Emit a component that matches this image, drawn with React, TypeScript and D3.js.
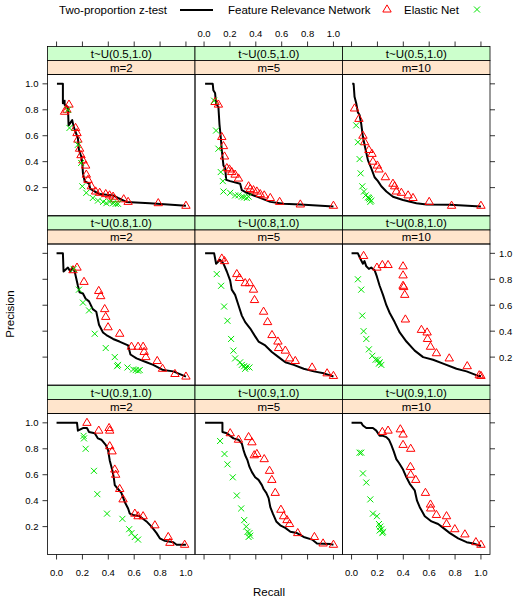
import React from "react";
import * as d3 from "d3";

const tLevels = ["t~U(0.5,1.0)", "t~U(0.8,1.0)", "t~U(0.9,1.0)"];
const mLevels = ["m=2", "m=5", "m=10"];
const recallTicks = [0, 0.2, 0.4, 0.6, 0.8, 1.0];
const precisionTicks = [0.2, 0.4, 0.6, 0.8, 1.0];
const seriesNames = ["Two-proportion z-test", "Feature Relevance Network", "Elastic Net"];

// [recall, precision] pairs
// Two-proportion z-test (black line)
const zT05m2 = [[0.003,1.0],[0.049,1.0],[0.049,0.85],[0.062,0.87],[0.062,0.84],[0.088,0.82],[0.093,0.68],[0.121,0.72],[0.132,0.67],[0.147,0.63],[0.165,0.58],[0.173,0.49],[0.191,0.44],[0.199,0.39],[0.204,0.31],[0.217,0.25],[0.251,0.23],[0.261,0.19],[0.295,0.17],[0.333,0.15],[0.437,0.14],[0.475,0.12],[0.54,0.09],[0.72,0.08],[1.0,0.06]];
const zT05m5 = [[0.008,1.0],[0.067,1.0],[0.072,0.95],[0.085,0.93],[0.093,0.85],[0.111,0.82],[0.119,0.69],[0.129,0.59],[0.137,0.49],[0.15,0.37],[0.163,0.35],[0.171,0.26],[0.202,0.25],[0.279,0.23],[0.292,0.18],[0.331,0.16],[0.408,0.13],[0.512,0.09],[0.615,0.075],[0.744,0.07],[1.0,0.055]];
const zT05m10 = [[0.005,1.0],[0.016,1.0],[0.023,0.9],[0.036,0.85],[0.049,0.78],[0.062,0.76],[0.075,0.69],[0.088,0.59],[0.109,0.49],[0.127,0.41],[0.152,0.35],[0.178,0.28],[0.204,0.25],[0.23,0.21],[0.269,0.17],[0.32,0.13],[0.398,0.105],[0.501,0.08],[0.579,0.07],[0.76,0.067],[1.0,0.055]];
const zT08m2 = [[0,1.0],[0.049,1.0],[0.054,0.86],[0.088,0.89],[0.106,0.86],[0.121,0.89],[0.14,0.86],[0.165,0.75],[0.178,0.7],[0.204,0.69],[0.225,0.65],[0.251,0.63],[0.28,0.57],[0.307,0.55],[0.328,0.45],[0.359,0.39],[0.385,0.37],[0.437,0.34],[0.486,0.32],[0.553,0.29],[0.571,0.22],[0.618,0.19],[0.695,0.16],[0.747,0.14],[0.824,0.1],[0.902,0.09],[1.0,0.05]];
const zT08m5 = [[0.008,1.0],[0.078,1.0],[0.093,0.92],[0.124,0.95],[0.15,0.92],[0.176,0.86],[0.202,0.79],[0.214,0.72],[0.24,0.68],[0.266,0.6],[0.292,0.52],[0.318,0.47],[0.357,0.42],[0.395,0.36],[0.421,0.32],[0.473,0.29],[0.524,0.24],[0.576,0.2],[0.628,0.16],[0.693,0.14],[0.77,0.11],[0.848,0.09],[0.925,0.075],[1.0,0.05]];
const zT08m10 = [[0,1.0],[0.049,1.0],[0.067,0.96],[0.088,0.92],[0.1,0.94],[0.114,0.9],[0.134,0.88],[0.152,0.89],[0.178,0.87],[0.196,0.82],[0.217,0.75],[0.243,0.68],[0.269,0.6],[0.295,0.54],[0.333,0.47],[0.372,0.39],[0.424,0.32],[0.488,0.25],[0.553,0.2],[0.63,0.18],[0.708,0.15],[0.811,0.11],[0.889,0.09],[0.979,0.055],[1.0,0.055]];
const zT09m2 = [[0,1.0],[0.158,1.0],[0.165,0.94],[0.204,0.96],[0.235,0.96],[0.251,0.93],[0.295,0.92],[0.32,0.88],[0.346,0.87],[0.38,0.83],[0.398,0.79],[0.411,0.71],[0.432,0.63],[0.442,0.58],[0.45,0.52],[0.475,0.49],[0.501,0.46],[0.527,0.39],[0.553,0.34],[0.566,0.3],[0.592,0.29],[0.643,0.28],[0.695,0.24],[0.734,0.2],[0.773,0.15],[0.798,0.11],[0.837,0.09],[0.902,0.08],[0.928,0.06],[1.0,0.06]];
const zT09m5 = [[0.008,1.0],[0.142,1.0],[0.142,0.93],[0.176,0.92],[0.227,0.88],[0.266,0.87],[0.292,0.84],[0.305,0.79],[0.318,0.75],[0.336,0.71],[0.351,0.66],[0.37,0.62],[0.395,0.58],[0.421,0.56],[0.447,0.52],[0.46,0.49],[0.481,0.46],[0.499,0.42],[0.512,0.35],[0.532,0.3],[0.558,0.24],[0.589,0.21],[0.628,0.19],[0.667,0.16],[0.718,0.15],[0.77,0.12],[0.835,0.1],[0.873,0.07],[0.977,0.065],[1.0,0.06]];
const zT09m10 = [[0,1.0],[0.075,1.0],[0.088,0.98],[0.114,0.96],[0.165,0.96],[0.191,0.94],[0.217,0.9],[0.243,0.9],[0.269,0.89],[0.289,0.87],[0.307,0.83],[0.326,0.78],[0.346,0.72],[0.367,0.69],[0.398,0.64],[0.424,0.58],[0.45,0.53],[0.488,0.48],[0.506,0.4],[0.527,0.35],[0.566,0.28],[0.618,0.24],[0.669,0.22],[0.708,0.19],[0.76,0.15],[0.824,0.11],[0.889,0.08],[0.941,0.07],[1.0,0.05]];

// Feature Relevance Network (red triangles)
const frnT05m2 = [[0.062,0.785],[0.08,0.8],[0.096,0.84],[0.147,0.66],[0.158,0.62],[0.165,0.57],[0.178,0.5],[0.189,0.45],[0.204,0.41],[0.225,0.37],[0.23,0.3],[0.243,0.26],[0.269,0.21],[0.302,0.17],[0.333,0.16],[0.38,0.15],[0.41,0.14],[0.437,0.13],[0.45,0.11],[0.519,0.11],[0.553,0.09],[0.786,0.08],[1.0,0.06]];
const frnT05m5 = [[0.085,0.86],[0.111,0.84],[0.137,0.59],[0.15,0.52],[0.158,0.44],[0.176,0.35],[0.196,0.34],[0.214,0.32],[0.24,0.3],[0.266,0.27],[0.344,0.21],[0.357,0.19],[0.382,0.18],[0.408,0.17],[0.434,0.15],[0.465,0.14],[0.512,0.12],[0.584,0.09],[0.744,0.07],[1.0,0.06]];
const frnT05m10 = [[0.023,0.81],[0.057,0.73],[0.088,0.6],[0.101,0.55],[0.134,0.49],[0.158,0.46],[0.165,0.4],[0.199,0.37],[0.212,0.34],[0.261,0.28],[0.32,0.23],[0.333,0.21],[0.346,0.17],[0.385,0.16],[0.437,0.14],[0.475,0.12],[0.6,0.09],[0.773,0.06],[1.0,0.06]];
const frnT08m2 = [[0.127,0.87],[0.158,0.89],[0.212,0.78],[0.326,0.71],[0.341,0.67],[0.372,0.57],[0.38,0.51],[0.398,0.43],[0.488,0.38],[0.579,0.28],[0.63,0.28],[0.669,0.28],[0.677,0.24],[0.69,0.2],[0.778,0.17],[0.819,0.11],[0.915,0.07],[1.0,0.05]];
const frnT08m5 = [[0.137,0.96],[0.158,0.94],[0.253,0.84],[0.274,0.81],[0.318,0.77],[0.351,0.77],[0.382,0.72],[0.39,0.64],[0.46,0.55],[0.491,0.47],[0.525,0.37],[0.571,0.32],[0.576,0.27],[0.628,0.25],[0.661,0.19],[0.705,0.17],[0.835,0.12],[0.951,0.075],[1.0,0.055]];
const frnT08m10 = [[0.093,0.98],[0.196,0.89],[0.238,0.91],[0.282,0.91],[0.398,0.9],[0.398,0.83],[0.398,0.75],[0.403,0.74],[0.411,0.68],[0.416,0.49],[0.54,0.41],[0.584,0.39],[0.587,0.34],[0.61,0.28],[0.656,0.23],[0.755,0.19],[0.894,0.13],[0.987,0.06],[1.0,0.055]];
const frnT09m2 = [[0.235,1.0],[0.326,0.94],[0.406,0.96],[0.411,0.94],[0.411,0.82],[0.429,0.78],[0.45,0.64],[0.457,0.6],[0.488,0.49],[0.514,0.41],[0.605,0.3],[0.63,0.28],[0.669,0.28],[0.76,0.21],[0.863,0.12],[0.876,0.075],[0.99,0.06]];
const frnT09m5 = [[0.202,0.92],[0.266,0.87],[0.344,0.89],[0.37,0.85],[0.388,0.75],[0.408,0.76],[0.465,0.72],[0.506,0.63],[0.524,0.56],[0.55,0.46],[0.594,0.33],[0.615,0.28],[0.641,0.25],[0.661,0.22],[0.724,0.15],[0.853,0.12],[0.92,0.07],[1.0,0.06]];
const frnT09m10 = [[0.238,0.93],[0.282,0.94],[0.377,0.95],[0.398,0.91],[0.398,0.83],[0.457,0.8],[0.455,0.66],[0.457,0.6],[0.496,0.56],[0.571,0.46],[0.61,0.37],[0.612,0.34],[0.656,0.29],[0.734,0.28],[0.734,0.22],[0.798,0.18],[0.876,0.14],[0.961,0.08],[1.0,0.06]];

// Elastic Net (green crosses)
const enT05m2 = [[0.088,0.8],[0.1,0.66],[0.165,0.53],[0.19,0.39],[0.199,0.21],[0.23,0.16],[0.28,0.12],[0.32,0.1],[0.36,0.09],[0.385,0.08],[0.41,0.09],[0.437,0.08],[0.457,0.075],[0.475,0.075]];
const enT05m5 = [[0.078,0.87],[0.093,0.64],[0.111,0.5],[0.129,0.32],[0.145,0.25],[0.15,0.17],[0.202,0.16],[0.24,0.14],[0.266,0.14],[0.292,0.13],[0.31,0.125],[0.33,0.12],[0.344,0.13]];
const enT05m10 = [[0.036,0.68],[0.049,0.55],[0.062,0.42],[0.07,0.31],[0.083,0.21],[0.096,0.17],[0.109,0.14],[0.127,0.125],[0.134,0.12],[0.14,0.11],[0.145,0.09],[0.152,0.1]];
const enT08m2 = [[0.132,0.88],[0.173,0.72],[0.204,0.62],[0.251,0.56],[0.295,0.38],[0.38,0.27],[0.45,0.2],[0.475,0.14],[0.468,0.13],[0.548,0.12],[0.592,0.105],[0.612,0.1],[0.63,0.095],[0.643,0.1]];
const enT08m5 = [[0.098,0.84],[0.132,0.75],[0.155,0.59],[0.181,0.48],[0.209,0.34],[0.227,0.25],[0.24,0.19],[0.279,0.16],[0.292,0.14],[0.31,0.13],[0.331,0.125],[0.351,0.12],[0.318,0.11]];
const enT08m10 = [[0.049,0.8],[0.075,0.72],[0.083,0.52],[0.093,0.4],[0.114,0.34],[0.134,0.26],[0.16,0.21],[0.186,0.18],[0.204,0.18],[0.217,0.16],[0.23,0.14],[0.212,0.15]];
const enT09m2 = [[0.209,0.9],[0.212,0.88],[0.225,0.8],[0.289,0.63],[0.315,0.45],[0.39,0.3],[0.509,0.26],[0.561,0.18],[0.579,0.15],[0.605,0.12],[0.63,0.1]];
const enT09m5 = [[0.124,0.86],[0.158,0.76],[0.181,0.68],[0.222,0.58],[0.253,0.44],[0.287,0.34],[0.31,0.25],[0.326,0.2],[0.336,0.16],[0.351,0.15],[0.344,0.12],[0.357,0.13]];
const enT09m10 = [[0.062,0.77],[0.075,0.77],[0.088,0.61],[0.114,0.54],[0.145,0.41],[0.165,0.3],[0.196,0.28],[0.212,0.22],[0.222,0.2],[0.23,0.18],[0.243,0.16],[0.217,0.17],[0.238,0.15]];

const lineData = [[zT05m2, zT05m5, zT05m10], [zT08m2, zT08m5, zT08m10], [zT09m2, zT09m5, zT09m10]];
const triData = [[frnT05m2, frnT05m5, frnT05m10], [frnT08m2, frnT08m5, frnT08m10], [frnT09m2, frnT09m5, frnT09m10]];
const crossData = [[enT05m2, enT05m5, enT05m10], [enT08m2, enT08m5, enT08m10], [enT09m2, enT09m5, enT09m10]];

const W = 519, H = 600;
const FONT = "'Liberation Sans', Arial, Helvetica, sans-serif";
const colLeft = [47.5, 195, 342.5];
const panelW = 147.5;
const rowTop = [46.5, 216, 385.5];
const stripH = 14;
const panelH = 141;
const RED = "#FF0000";
const GREEN = "#00E600";
const STRIP1 = "#CCFFCC";
const STRIP2 = "#FFE5CC";

function Tri({ x, y }: { x: number; y: number }) {
  const s = 4.2;
  return <path d={`M${x},${y - s * 1.1}L${x + s},${y + s * 0.6}L${x - s},${y + s * 0.6}Z`} fill="none" stroke={RED} strokeWidth={1} />;
}
function Cross({ x, y }: { x: number; y: number }) {
  const s = 3;
  return <path d={`M${x - s},${y - s}L${x + s},${y + s}M${x - s},${y + s}L${x + s},${y - s}`} fill="none" stroke={GREEN} strokeWidth={1} />;
}

export default function App() {
  const panels: any[] = [];
  for (let r = 0; r < 3; r++) {
    for (let c = 0; c < 3; c++) {
      const pTop = rowTop[r] + 2 * stripH;
      const xs = d3.scaleLinear().domain([-0.07, 1.07]).range([colLeft[c], colLeft[c] + panelW]);
      const ys = d3.scaleLinear().domain([-0.015, 1.072]).range([pTop + panelH, pTop]);
      const line = d3.line<number[]>().x((d) => xs(d[0])).y((d) => ys(d[1]));
      const id = `clip-${r}-${c}`;
      panels.push(
        <g key={id}>
          <clipPath id={id}>
            <rect x={colLeft[c]} y={pTop} width={panelW} height={panelH} />
          </clipPath>
          <rect x={colLeft[c]} y={rowTop[r]} width={panelW} height={stripH} fill={STRIP1} stroke="#000" strokeWidth={0.8} />
          <text x={colLeft[c] + panelW / 2} y={rowTop[r] + 11} textAnchor="middle" fontSize={11.5} fontFamily={FONT}>{tLevels[r]}</text>
          <rect x={colLeft[c]} y={rowTop[r] + stripH} width={panelW} height={stripH} fill={STRIP2} stroke="#000" strokeWidth={0.8} />
          <text x={colLeft[c] + panelW / 2} y={rowTop[r] + stripH + 11} textAnchor="middle" fontSize={11.5} fontFamily={FONT}>{mLevels[c]}</text>
          <g clipPath={`url(#${id})`}>
            <path d={line(lineData[r][c]) || ""} fill="none" stroke="#000" strokeWidth={2} strokeLinejoin="round" />
            {triData[r][c].map((d, i) => <Tri key={"t" + i} x={xs(d[0])} y={ys(d[1])} />)}
            {crossData[r][c].map((d, i) => <Cross key={"x" + i} x={xs(d[0])} y={ys(d[1])} />)}
          </g>
          <rect x={colLeft[c]} y={pTop} width={panelW} height={panelH} fill="none" stroke="#000" strokeWidth={0.8} />
        </g>
      );
    }
  }

  // axes
  const axes: any[] = [];
  for (let c = 0; c < 3; c++) {
    const xs = d3.scaleLinear().domain([-0.07, 1.07]).range([colLeft[c], colLeft[c] + panelW]);
    const topY = rowTop[0];
    const botY = rowTop[2] + 2 * stripH + panelH;
    recallTicks.forEach((t, i) => {
      const x = xs(t);
      axes.push(<line key={`xt-${c}-${i}`} x1={x} x2={x} y1={topY - 5} y2={topY} stroke="#000" strokeWidth={0.8} />);
      axes.push(<line key={`xb-${c}-${i}`} x1={x} x2={x} y1={botY} y2={botY + 5} stroke="#000" strokeWidth={0.8} />);
      if (c === 1) {
        axes.push(<text key={`xtl-${c}-${i}`} x={x} y={topY - 10} textAnchor="middle" fontSize={9.5} fontFamily={FONT}>{t.toFixed(1)}</text>);
      } else {
        axes.push(<text key={`xbl-${c}-${i}`} x={x} y={botY + 21} textAnchor="middle" fontSize={9.5} fontFamily={FONT}>{t.toFixed(1)}</text>);
      }
    });
  }
  for (let r = 0; r < 3; r++) {
    const pTop = rowTop[r] + 2 * stripH;
    const ys = d3.scaleLinear().domain([-0.015, 1.072]).range([pTop + panelH, pTop]);
    const leftX = colLeft[0];
    const rightX = colLeft[2] + panelW;
    precisionTicks.forEach((t, i) => {
      const y = ys(t);
      axes.push(<line key={`yl-${r}-${i}`} x1={leftX - 5} x2={leftX} y1={y} y2={y} stroke="#000" strokeWidth={0.8} />);
      axes.push(<line key={`yr-${r}-${i}`} x1={rightX} x2={rightX + 5} y1={y} y2={y} stroke="#000" strokeWidth={0.8} />);
      if (r === 1) {
        axes.push(<text key={`yrl-${r}-${i}`} x={rightX + 9} y={y + 3.5} textAnchor="start" fontSize={9.5} fontFamily={FONT}>{t.toFixed(1)}</text>);
      } else {
        axes.push(<text key={`yll-${r}-${i}`} x={leftX - 9} y={y + 3.5} textAnchor="end" fontSize={9.5} fontFamily={FONT}>{t.toFixed(1)}</text>);
      }
    });
  }

  return (
    <svg width={W} height={H} style={{ position: "absolute", left: 0, top: 0, background: "#fff" }}>
      <rect x={0} y={0} width={W} height={H} fill="#fff" />
      {/* legend */}
      <g fontFamily={FONT} fontSize={11.5}>
        <text x={59} y={14}>{seriesNames[0]}</text>
        <line x1={180} x2={213} y1={10} y2={10} stroke="#000" strokeWidth={2} />
        <text x={228} y={14}>{seriesNames[1]}</text>
        <Tri x={387} y={9.5} />
        <text x={404} y={14}>{seriesNames[2]}</text>
        <Cross x={477} y={9.5} />
      </g>
      {panels}
      {axes}
      <text x={269} y={596} textAnchor="middle" fontSize={11.5} fontFamily={FONT}>Recall</text>
      <text transform={`translate(14,314) rotate(-90)`} textAnchor="middle" fontSize={11.5} fontFamily={FONT}>Precision</text>
    </svg>
  );
}
